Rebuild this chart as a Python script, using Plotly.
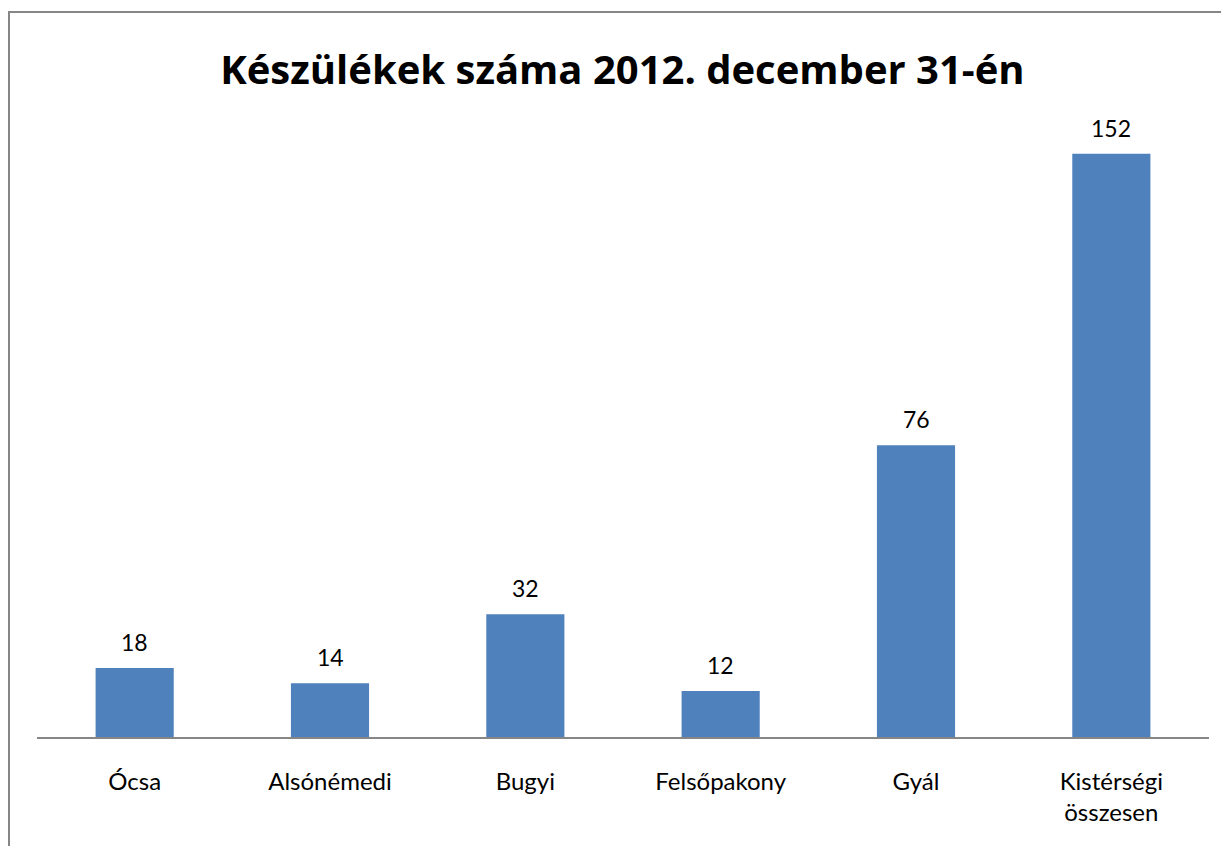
import plotly.graph_objects as go

categories = ["Ócsa", "Alsónémedi", "Bugyi", "Felsőpakony", "Gyál", "Kistérségi<br>összesen"]
values = [18, 14, 32, 12, 76, 152]
title_text = "Készülékek száma 2012. december 31-én"

W, H = 1221, 838
ml, mr, mt, mb = 29, 20, 115, 109
pw, ph = W - ml - mr, H - mt - mb

fig = go.Figure()
fig.add_trace(go.Bar(x=categories, y=values, marker=dict(color="#4F81BD", line=dict(width=0)),
                     hoverinfo="x+y"))

for c, v in zip(categories, values):
    fig.add_annotation(x=c, y=v, text=str(v), showarrow=False, yanchor="bottom", yshift=10,
                       font=dict(size=23, color="#000000", family="Lato"))

def px_x(p):
    return (p - ml) / pw

def px_y(p):
    return 1 - (p - mt) / ph

fig.add_shape(type="line", xref="paper", yref="paper", x0=px_x(1), x1=px_x(1), y0=px_y(4), y1=px_y(H + 2),
              line=dict(color="#868686", width=2))
fig.add_shape(type="line", xref="paper", yref="paper", x0=px_x(0), x1=px_x(W + 2), y0=px_y(4), y1=px_y(4),
              line=dict(color="#868686", width=2))

fig.update_layout(
    width=W, height=H,
    margin=dict(l=ml, r=mr, t=mt, b=mb),
    paper_bgcolor="white", plot_bgcolor="white",
    bargap=0.6,
    showlegend=False,
    title=dict(text="<b>" + title_text + "</b>", x=0.4995, xanchor="center", xref="paper",
               y=1 - 62 / H, yanchor="middle", font=dict(size=40, color="#000000", family="Open Sans")),
    xaxis=dict(showline=True, linecolor="#868686", linewidth=1.5, ticks="", showgrid=False,
               tickfont=dict(size=24, color="#000000", family="Lato"), ticklabelstandoff=22),
    yaxis=dict(range=[0, 160], visible=False, showgrid=False, zeroline=False),
)

fig.write_html("out.html")
